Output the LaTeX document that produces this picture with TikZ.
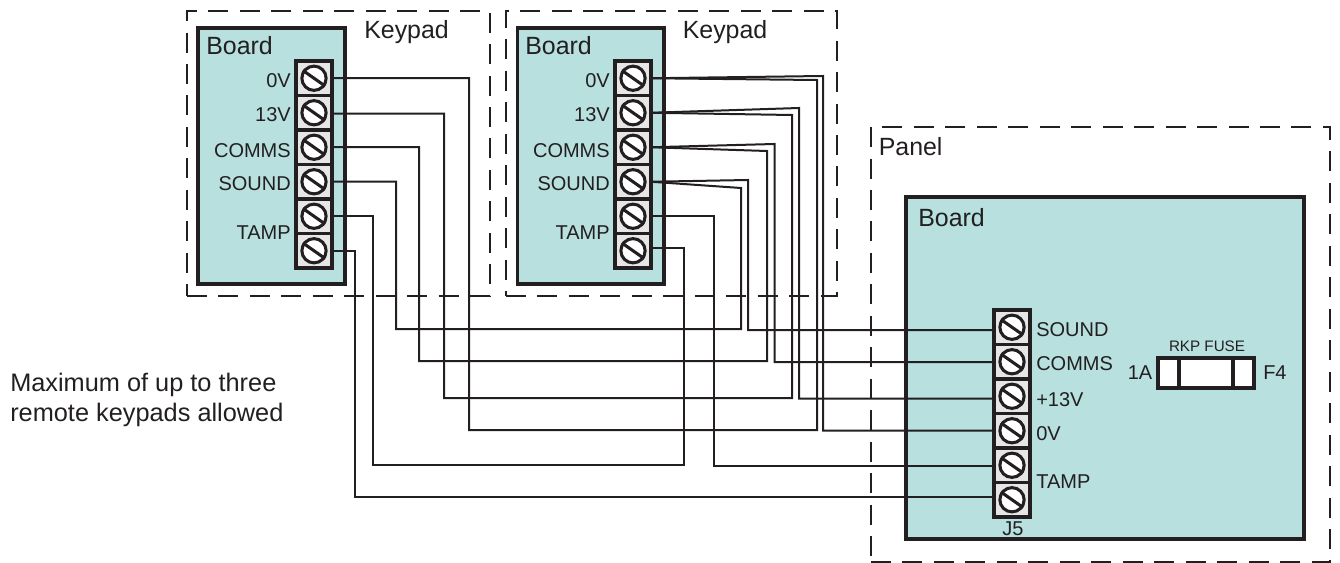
\documentclass[tikz,border=0pt]{standalone}
\usepackage{fontspec}
\setmainfont{Liberation Sans}
\usetikzlibrary{fit}
\definecolor{ink}{HTML}{231F20}
\definecolor{teal}{HTML}{B7E0DF}
\definecolor{cellgrey}{HTML}{E6E6E6}
\tikzset{
  dashbox/.style={draw=ink,line width=1.5pt,dash pattern=on 15pt off 8.6pt,inner sep=0pt,rectangle},
  boardbox/.style={draw=ink,line width=2.4pt,fill=teal,inner sep=0pt,rectangle},
  cellbox/.style={draw=ink,line width=2.5pt,fill=cellgrey,inner sep=0pt,outer sep=0pt,minimum width=27pt,minimum height=25.875pt,rectangle},
  screw/.style={draw=ink,line width=2.3pt,fill=white,circle,inner sep=0pt,minimum size=18.2pt},
  slash/.style={draw=ink,line width=2.3pt},
  wire/.style={draw=ink,line width=1.5pt,line join=miter},
  fusebox/.style={draw=ink,line width=2.6pt,fill=white,inner sep=0pt,rectangle},
  big/.style={font=\fontsize{18.7}{22}\selectfont,text=ink,inner sep=0pt,anchor=base west},
  lab/.style={font=\fontsize{15}{18}\selectfont,text=ink,inner sep=0pt},
  small/.style={font=\fontsize{11.4}{14}\selectfont,text=ink,inner sep=0pt,anchor=base},
  note/.style={font=\fontsize{19}{22}\selectfont,text=ink,inner sep=0pt,anchor=base west}
}
\begin{document}
\begin{tikzpicture}[x=0.75pt,y=-0.75pt]
\useasboundingbox (0,0) rectangle (1340,563);
% dashed enclosures
\node[dashbox,fit={(187,11)(490,296)}] (kpa) {};
\node[dashbox,fit={(506,11)(837,296)}] (kpb) {};
\node[dashbox,fit={(871,127)(1330,562)}] (panel) {};
% boards
\node[boardbox,fit={(198,28)(345,284)}] (bda) {};
\node[boardbox,fit={(517.5,28)(664,284)}] (bdb) {};
\node[boardbox,fit={(906,197)(1304,539)}] (bdp) {};
% terminal cells (placed first so that the wires can name them)
\foreach \i in {1,...,6}{
  \pgfmathsetmacro{\ya}{78.25+34.5*(\i-1)}
  \pgfmathsetmacro{\yp}{327.25+34.5*(\i-1)}
  \node[cellbox] (a\i) at (314,\ya) {};
  \node[cellbox] (b\i) at (633,\ya) {};
  \node[cellbox] (p\i) at (1012,\yp) {};
}
% wires: keypad 1 to keypad 2
\draw[wire] (a1.east) -| (469,430) -| (817,80) -- (b1.east);
\draw[wire] ([shift={(0,1)}]a2.east) -| (444,398) -| (792,115) -- (b2.east);
\draw[wire] (a3.east) -| (419,361) -| (767,151) -- (b3.east);
\draw[wire] (a4.east) -| (396,329) -| (741,188) -- (b4.east);
\draw[wire] (a5.east) -| (373,465) -| (684,248) -- ([shift={(0,-2.75)}]b6.east);
% wires: keypad 2 to panel
\draw[wire] (b1.east) -- (823,76) -- (823,430.5) -- ([shift={(0,-0.25)}]p4.west);
\draw[wire] (b2.east) -- (799,108) -- (799,398.5) -- ([shift={(0,2.25)}]p3.west);
\draw[wire] (b3.east) -- (774.5,144) -- (774.5,362) -- ([shift={(0,0.25)}]p2.west);
\draw[wire] (b4.east) -- (748,180) -- (748,330) -- ([shift={(0,2.75)}]p1.west);
\draw[wire] (b5.east) -| (714,466) -- ([shift={(0,0.75)}]p5.west);
% wire: keypad 1 to panel
\draw[wire] (a6.east) -| (355,497) -- ([shift={(0,-2.75)}]p6.west);
% terminal cells, again on top of the wire ends
\foreach \i in {1,...,6}{
  \node[cellbox,at=(a\i)] (ca\i) {};
  \node[cellbox,at=(b\i)] (cb\i) {};
  \node[cellbox,at=(p\i)] (cp\i) {};
  \node[screw,at=(a\i)] (sa\i) {};
  \node[screw,at=(b\i)] (sb\i) {};
  \node[screw,at=(p\i)] (sp\i) {};
  \draw[slash] (sa\i.145) -- (sa\i.-35);
  \draw[slash] (sb\i.145) -- (sb\i.-35);
  \draw[slash] (sp\i.145) -- (sp\i.-35);
}
% texts: keypad 1
\node[big] (ta) at (206,55) {Board};
\node[big] (tka) at (364,39) {Keypad};
\node[lab,anchor=base east] (la1) at (291,88) {0V};
\node[lab,anchor=base east] (la2) at (291,122) {13V};
\node[lab,anchor=base east] (la3) at (291,158) {COMMS};
\node[lab,anchor=base east] (la4) at (291,191) {SOUND};
\node[lab,anchor=base east] (la5) at (291,240) {TAMP};
% texts: keypad 2
\node[big] (tb) at (525,55) {Board};
\node[big] (tkb) at (682.5,39) {Keypad};
\node[lab,anchor=base east] (lb1) at (610,88) {0V};
\node[lab,anchor=base east] (lb2) at (610,122) {13V};
\node[lab,anchor=base east] (lb3) at (610,158) {COMMS};
\node[lab,anchor=base east] (lb4) at (610,191) {SOUND};
\node[lab,anchor=base east] (lb5) at (610,240) {TAMP};
% texts: panel
\node[big] (tp) at (878.5,156) {Panel};
\node[big] (tq) at (918,227) {Board};
\node[lab,anchor=base west] (lp1) at (1036,336) {SOUND};
\node[lab,anchor=base west] (lp2) at (1036,370) {COMMS};
\node[lab,anchor=base west] (lp3) at (1036,406) {+13V};
\node[lab,anchor=base west] (lp4) at (1036,440) {0V};
\node[lab,anchor=base west] (lp5) at (1036,488) {TAMP};
\node[lab,anchor=base] (lj) at (1013,535) {J5};
% fuse
\node[fusebox,fit={(1158,358)(1179,388)}] (fa) {};
\node[fusebox,fit={(1179,358)(1233,388)}] (fb) {};
\node[fusebox,fit={(1233,358)(1254,388)}] (fc) {};
\node[small] (lf) at (1207,351) {RKP FUSE};
\node[lab,anchor=base east] (l1a) at (1152.5,379) {1A};
\node[lab,anchor=base west] (lf4) at (1263,379) {F4};
% note
\node[note] (n1) at (10,391) {Maximum of up to three};
\node[note] (n2) at (10,421) {remote keypads allowed};
\end{tikzpicture}
\end{document}
